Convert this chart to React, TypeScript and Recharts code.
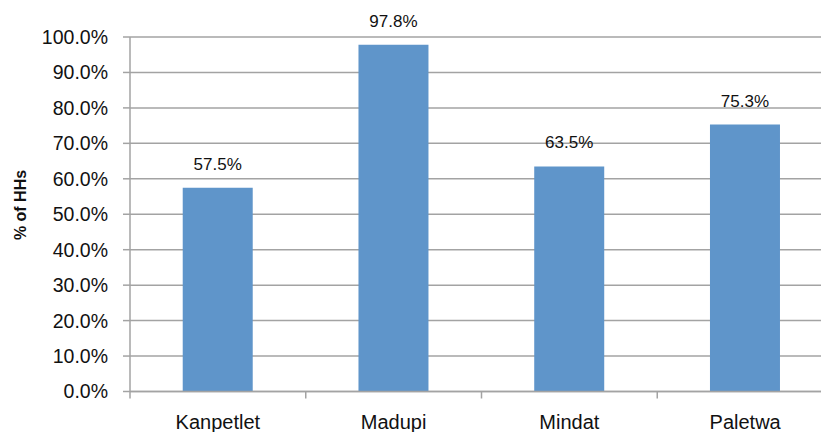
import React from "react";
import { BarChart, Bar, XAxis, YAxis, CartesianGrid, LabelList } from "recharts";

const districts = ["Kanpetlet", "Madupi", "Mindat", "Paletwa"];
const shareOfHHs = [0.575, 0.978, 0.635, 0.753];
const yTicks = [0, 0.1, 0.2, 0.3, 0.4, 0.5, 0.6, 0.7, 0.8, 0.9, 1.0];
const boundaryTicks = [0, 1, 2, 3, 4];
const yAxisTitle = "% of HHs";

const data = districts.map((d, i) => ({ name: d, value: shareOfHHs[i] }));

const FONT = "'Liberation Sans', Arial, sans-serif";
const GRAY = "#A3A3A3";
const pct = (v: number) => `${(v * 100).toFixed(1)}%`;

export default function App() {
  return (
    <div
      style={{
        position: "absolute",
        left: 0,
        top: 0,
        width: 821,
        height: 432,
        overflow: "hidden",
        background: "#fff",
      }}
    >
      <BarChart
        width={840}
        height={432}
        data={data}
        margin={{ top: 37, right: 7, bottom: 0, left: 0 }}
        barCategoryGap="30%"
        style={{ fontFamily: FONT }}
      >
        <CartesianGrid xAxisId={1} horizontal vertical={false} stroke={GRAY} strokeWidth={1.5} />
        <XAxis
          xAxisId={0}
          type="number"
          dataKey="idx"
          domain={[0, 4]}
          ticks={boundaryTicks}
          height={1}
          tick={() => <g />}
          tickLine={{ stroke: GRAY, strokeWidth: 1.5 }}
          tickSize={7}
          axisLine={{ stroke: GRAY, strokeWidth: 1.5 }}
          allowDataOverflow
        />
        <XAxis
          xAxisId={1}
          dataKey="name"
          height={39.5}
          axisLine={false}
          tickLine={false}
          tickSize={5}
          tickMargin={17}
          tick={{ fill: "#111", fontSize: 20, fontFamily: FONT }}
          interval={0}
        />
        <YAxis
          domain={[0, 1]}
          ticks={yTicks}
          width={130}
          tickFormatter={pct}
          tickSize={7}
          tickMargin={15}
          axisLine={{ stroke: GRAY, strokeWidth: 1.5 }}
          tickLine={{ stroke: GRAY, strokeWidth: 1.5 }}
          tick={{ fill: "#111", fontSize: 19.5, fontFamily: FONT }}
          label={{
            content: () => (
              <text
                x={20}
                y={205}
                transform="rotate(-90 20 205)"
                textAnchor="middle"
                dominantBaseline="central"
                fontSize={16}
                fontWeight="bold"
                fill="#111"
                fontFamily={FONT}
              >
                {yAxisTitle}
              </text>
            ),
          }}
        />
        <Bar xAxisId={1} dataKey="value" fill="#5F95CA" isAnimationActive={false}>
          <LabelList
            dataKey="value"
            position="top"
            offset={18}
            formatter={(v: any) => pct(Number(v))}
            style={{ fill: "#111", fontSize: 17, fontFamily: FONT }}
          />
        </Bar>
      </BarChart>
    </div>
  );
}
